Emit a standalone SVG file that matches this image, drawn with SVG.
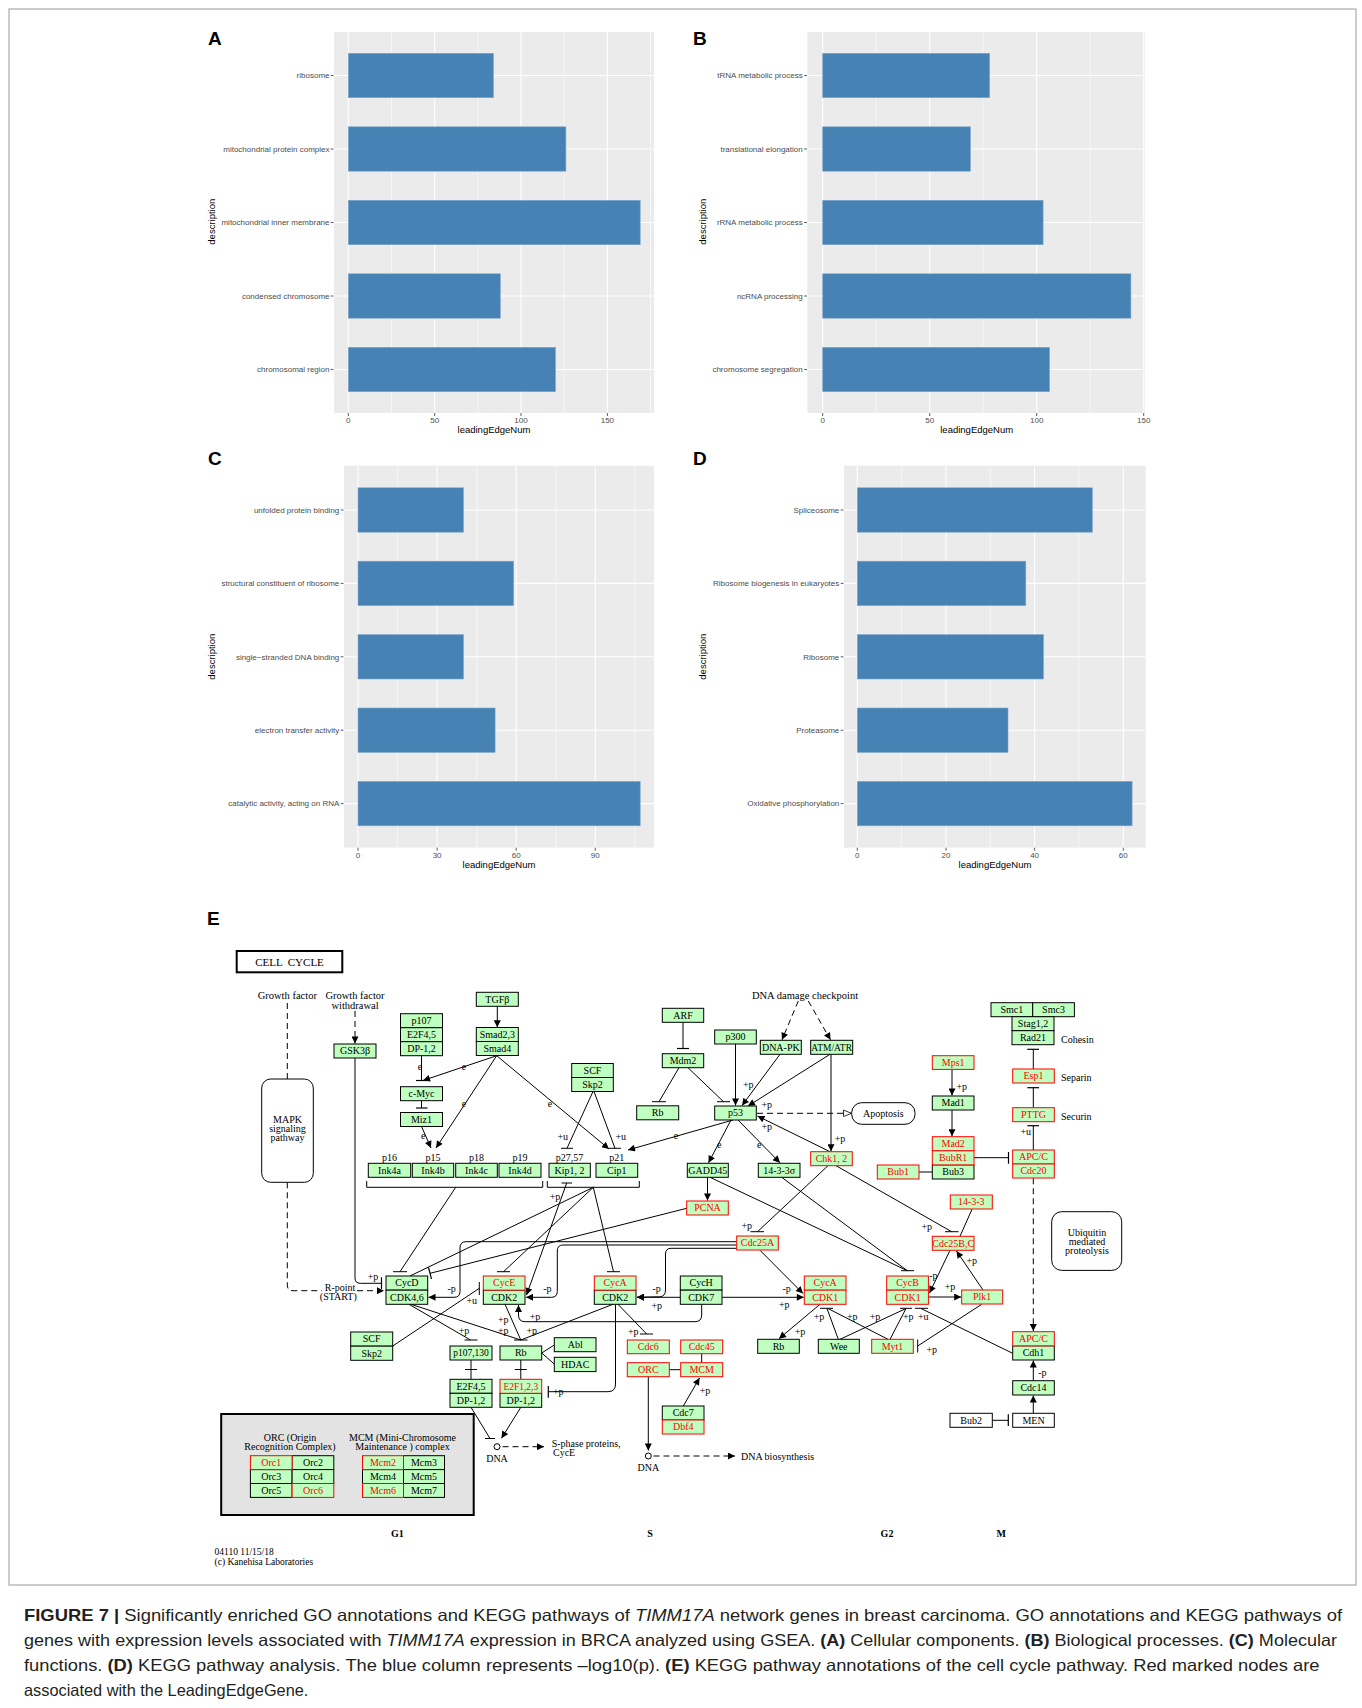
<svg xmlns="http://www.w3.org/2000/svg" width="1362" height="1708" viewBox="0 0 1362 1708">
<style>
.pbg{fill:#EBEBEB}
.gmaj{stroke:#fff;stroke-width:1.1;fill:none}
.gmin{stroke:#fff;stroke-width:0.55;fill:none}
.bar{fill:#4682B4;stroke:#7fa6cc;stroke-width:0.6}
.tk{stroke:#333;stroke-width:0.8;fill:none}
.al{font-family:"Liberation Sans",Arial,sans-serif;font-size:8px;fill:#4D4D4D;text-anchor:end}
.ax{font-family:"Liberation Sans",Arial,sans-serif;font-size:8px;fill:#4D4D4D;text-anchor:middle}
.at{font-family:"Liberation Sans",Arial,sans-serif;font-size:9.5px;fill:#000;text-anchor:middle}
.pl{font-family:"Liberation Sans",Arial,sans-serif;font-size:19px;font-weight:bold;fill:#000}
.g{fill:#BFFFBF;stroke:#000;stroke-width:1}
.r{fill:#BFFFBF;stroke:#F00;stroke-width:1}
.w{fill:#fff;stroke:#000;stroke-width:1}
.k{font-family:"Liberation Serif","Times New Roman",serif;font-size:10px;text-anchor:middle;fill:#000}
.ks{font-family:"Liberation Serif","Times New Roman",serif;font-size:10px;text-anchor:start;fill:#000}
.kr{fill:#F00}
.l{fill:none;stroke:#000;stroke-width:1}
.d{stroke-dasharray:6 4}
.cap{font-family:"Liberation Sans Narrow","Liberation Sans",Arial,sans-serif;font-size:16.5px;fill:#231F20}
</style>
<defs>
<marker id="ar" viewBox="0 0 10 10" refX="10" refY="5" markerWidth="8" markerHeight="7" markerUnits="userSpaceOnUse" orient="auto"><path d="M0,0L10,5L0,10z" fill="#000"/></marker>
<marker id="bar" viewBox="0 0 4 12" refX="2" refY="6" markerWidth="4" markerHeight="12" markerUnits="userSpaceOnUse" orient="auto"><path d="M2,0V12" stroke="#000" stroke-width="1.2"/></marker>
<marker id="oa" viewBox="0 0 12 10" refX="11" refY="5" markerWidth="10" markerHeight="8" markerUnits="userSpaceOnUse" orient="auto"><path d="M1,1L11,5L1,9z" fill="#fff" stroke="#000" stroke-width="1"/></marker>
</defs>
<rect x="0" y="0" width="1362" height="1708" fill="#fff"/>
<rect x="9" y="9" width="1347" height="1576" fill="none" stroke="#999" stroke-width="1"/>

<!-- Panel A -->
<g id="panelA">
<text class="pl" x="208" y="45">A</text>
<rect class="pbg" x="334" y="32" width="320" height="381"/>
<path class="gmin" d="M391.5,32V413M477.8,32V413M564.2,32V413M650.5,32V413"/>
<path class="gmaj" d="M348.3,32V413M434.7,32V413M521,32V413M607.4,32V413M334,75.5H654M334,149H654M334,222.5H654M334,296H654M334,369.5H654"/>
<rect class="bar" x="348.3" y="53.3" width="145.1" height="44.4"/>
<rect class="bar" x="348.3" y="126.8" width="217.6" height="44.4"/>
<rect class="bar" x="348.3" y="200.3" width="291.9" height="44.4"/>
<rect class="bar" x="348.3" y="273.8" width="152" height="44.4"/>
<rect class="bar" x="348.3" y="347.3" width="207.2" height="44.4"/>
<path class="tk" d="M330.7,75.5H333.5M330.7,149H333.5M330.7,222.5H333.5M330.7,296H333.5M330.7,369.5H333.5M348.3,413V416M434.7,413V416M521,413V416M607.4,413V416"/>
<text class="al" x="329.5" y="78.3">ribosome</text>
<text class="al" x="329.5" y="151.8">mitochondrial protein complex</text>
<text class="al" x="329.5" y="225.3">mitochondrial inner membrane</text>
<text class="al" x="329.5" y="298.8">condensed chromosome</text>
<text class="al" x="329.5" y="372.3">chromosomal region</text>
<text class="ax" x="348.3" y="423">0</text><text class="ax" x="434.7" y="423">50</text><text class="ax" x="521" y="423">100</text><text class="ax" x="607.4" y="423">150</text>
<text class="at" x="494" y="433">leadingEdgeNum</text>
<text class="at" transform="translate(215,221.7) rotate(-90)">description</text>
</g>

<!-- Panel B -->
<g id="panelB">
<text class="pl" x="693" y="45">B</text>
<rect class="pbg" x="807.3" y="32" width="337.7" height="381"/>
<path class="gmin" d="M876.2,32V413M983.2,32V413M1090.2,32V413"/>
<path class="gmaj" d="M822.7,32V413M929.7,32V413M1036.7,32V413M1143.7,32V413M807.3,75.5H1145M807.3,149H1145M807.3,222.5H1145M807.3,296H1145M807.3,369.5H1145"/>
<rect class="bar" x="822.7" y="53.3" width="166.9" height="44.4"/>
<rect class="bar" x="822.7" y="126.8" width="147.7" height="44.4"/>
<rect class="bar" x="822.7" y="200.3" width="220.4" height="44.4"/>
<rect class="bar" x="822.7" y="273.8" width="308.2" height="44.4"/>
<rect class="bar" x="822.7" y="347.3" width="226.8" height="44.4"/>
<path class="tk" d="M804.2,75.5H807M804.2,149H807M804.2,222.5H807M804.2,296H807M804.2,369.5H807M822.7,413V416M929.7,413V416M1036.7,413V416M1143.7,413V416"/>
<text class="al" x="802.7" y="78.3">tRNA metabolic process</text>
<text class="al" x="802.7" y="151.8">translational elongation</text>
<text class="al" x="802.7" y="225.3">rRNA metabolic process</text>
<text class="al" x="802.7" y="298.8">ncRNA processing</text>
<text class="al" x="802.7" y="372.3">chromosome segregation</text>
<text class="ax" x="822.7" y="423">0</text><text class="ax" x="929.7" y="423">50</text><text class="ax" x="1036.7" y="423">100</text><text class="ax" x="1143.7" y="423">150</text>
<text class="at" x="976.7" y="433">leadingEdgeNum</text>
<text class="at" transform="translate(705.5,221.7) rotate(-90)">description</text>
</g>

<!-- Panel C -->
<g id="panelC">
<text class="pl" x="208" y="465">C</text>
<rect class="pbg" x="344" y="465.7" width="310" height="382"/>
<path class="gmin" d="M397.6,465.7V847.7M476.7,465.7V847.7M555.8,465.7V847.7M634.9,465.7V847.7"/>
<path class="gmaj" d="M358,465.7V847.7M437.1,465.7V847.7M516.2,465.7V847.7M595.3,465.7V847.7M344,510H654M344,583.4H654M344,656.8H654M344,730.2H654M344,803.6H654"/>
<rect class="bar" x="358" y="487.8" width="105.5" height="44.4"/>
<rect class="bar" x="358" y="561.2" width="155.6" height="44.4"/>
<rect class="bar" x="358" y="634.6" width="105.5" height="44.4"/>
<rect class="bar" x="358" y="708" width="137.1" height="44.4"/>
<rect class="bar" x="358" y="781.4" width="282.2" height="44.4"/>
<path class="tk" d="M340.7,510H343.5M340.7,583.4H343.5M340.7,656.8H343.5M340.7,730.2H343.5M340.7,803.6H343.5M358,847.7V850.7M437.1,847.7V850.7M516.2,847.7V850.7M595.3,847.7V850.7"/>
<text class="al" x="339.3" y="512.8">unfolded protein binding</text>
<text class="al" x="339.3" y="586.2">structural constituent of ribosome</text>
<text class="al" x="339.3" y="659.6">single−stranded DNA binding</text>
<text class="al" x="339.3" y="733">electron transfer activity</text>
<text class="al" x="339.3" y="806.4">catalytic activity, acting on RNA</text>
<text class="ax" x="358" y="857.5">0</text><text class="ax" x="437.1" y="857.5">30</text><text class="ax" x="516.2" y="857.5">60</text><text class="ax" x="595.3" y="857.5">90</text>
<text class="at" x="499" y="867.5">leadingEdgeNum</text>
<text class="at" transform="translate(215,656.7) rotate(-90)">description</text>
</g>

<!-- Panel D -->
<g id="panelD">
<text class="pl" x="693" y="465">D</text>
<rect class="pbg" x="844" y="465.7" width="301.7" height="382"/>
<path class="gmin" d="M901.6,465.7V847.7M990.3,465.7V847.7M1079,465.7V847.7"/>
<path class="gmaj" d="M857.3,465.7V847.7M946,465.7V847.7M1034.6,465.7V847.7M1123.3,465.7V847.7M844,510H1145.7M844,583.4H1145.7M844,656.8H1145.7M844,730.2H1145.7M844,803.6H1145.7"/>
<rect class="bar" x="857.3" y="487.8" width="235" height="44.4"/>
<rect class="bar" x="857.3" y="561.2" width="168.5" height="44.4"/>
<rect class="bar" x="857.3" y="634.6" width="186.2" height="44.4"/>
<rect class="bar" x="857.3" y="708" width="150.7" height="44.4"/>
<rect class="bar" x="857.3" y="781.4" width="274.8" height="44.4"/>
<path class="tk" d="M840.7,510H843.5M840.7,583.4H843.5M840.7,656.8H843.5M840.7,730.2H843.5M840.7,803.6H843.5M857.3,847.7V850.7M946,847.7V850.7M1034.6,847.7V850.7M1123.3,847.7V850.7"/>
<text class="al" x="839.3" y="512.8">Spliceosome</text>
<text class="al" x="839.3" y="586.2">Ribosome biogenesis in eukaryotes</text>
<text class="al" x="839.3" y="659.6">Ribosome</text>
<text class="al" x="839.3" y="733">Proteasome</text>
<text class="al" x="839.3" y="806.4">Oxidative phosphorylation</text>
<text class="ax" x="857.3" y="857.5">0</text><text class="ax" x="946" y="857.5">20</text><text class="ax" x="1034.6" y="857.5">40</text><text class="ax" x="1123.3" y="857.5">60</text>
<text class="at" x="995" y="867.5">leadingEdgeNum</text>
<text class="at" transform="translate(705.5,656.7) rotate(-90)">description</text>
</g>

<!-- Panel E -->
<text class="pl" x="207" y="925">E</text>
<g id="title"><rect x="236.7" y="951" width="105.6" height="21.3" fill="#fff" stroke="#000" stroke-width="2"/><text class="k" x="289.5" y="965.5" style="font-size:11px" xml:space="preserve">CELL  CYCLE</text></g>

<g id="labels">
<text class="k" x="287.3" y="999" style="font-size:10.5px">Growth factor</text>
<text class="k" x="355" y="999" style="font-size:10.5px">Growth factor</text>
<text class="k" x="355" y="1008.5" style="font-size:10.5px">withdrawal</text>
<text class="k" x="805" y="999" style="font-size:10.5px">DNA damage checkpoint</text>
<text class="ks" x="1061" y="1043">Cohesin</text>
<text class="ks" x="1061" y="1081">Separin</text>
<text class="ks" x="1061" y="1119.5">Securin</text>
<text class="k" x="340" y="1290.5">R-point</text>
<text class="k" x="338.3" y="1299.5">(START)</text>
<text class="ks" x="551.7" y="1446.5">S-phase proteins,</text>
<text class="ks" x="553" y="1456">CycE</text>
<text class="k" x="497" y="1461.5">DNA</text>
<text class="k" x="648.3" y="1471">DNA</text>
<text class="ks" x="741" y="1459.5">DNA biosynthesis</text>
<text class="k" x="397.4" y="1536.5" font-weight="bold">G1</text>
<text class="k" x="650" y="1536.5" font-weight="bold">S</text>
<text class="k" x="887" y="1536.5" font-weight="bold">G2</text>
<text class="k" x="1001.3" y="1536.5" font-weight="bold">M</text>
<text class="ks" x="214.5" y="1555" style="font-size:9.5px">04110 11/15/18</text>
<text class="ks" x="214.5" y="1564.5" style="font-size:9.5px">(c) Kanehisa Laboratories</text>
</g>

<g id="connectors">
<g class="l d">
<path d="M287.3,1003V1079"/>
<path d="M287.3,1182.3V1285Q287.3,1290.7 293,1290.7H322"/>
<path d="M357,1290.7H384" marker-end="url(#ar)"/>
<path d="M355,1011V1043.5" marker-end="url(#ar)"/>
<path d="M798.3,1001L782,1039.8" marker-end="url(#ar)"/>
<path d="M808.3,1001L830.5,1039.8" marker-end="url(#ar)"/>
<path d="M757,1113.3H851.5" marker-end="url(#oa)"/>
<path d="M1033.3,1178.3V1331" marker-end="url(#ar)"/>
<path d="M502.5,1446.7H544" marker-end="url(#ar)"/>
<path d="M653.5,1456H735" marker-end="url(#ar)"/>
</g>
<g class="l">
<path d="M355,1057.7V1278Q355,1283.3 360.3,1283.3H381.5" marker-end="url(#bar)"/>
<path d="M497.3,1006.3V1027.3" marker-end="url(#ar)"/>
<path d="M421.5,1055.7V1080.5" marker-end="url(#bar)"/>
<path d="M496.7,1055.7L423,1080.5" marker-end="url(#ar)"/>
<path d="M421.5,1100.7V1108" marker-end="url(#bar)"/>
<path d="M421.5,1126.5L431,1148" marker-end="url(#ar)"/>
<path d="M496.7,1055.7L436,1148" marker-end="url(#ar)"/>
<path d="M496.7,1055.7L609,1149" marker-end="url(#ar)"/>
<path d="M593,1091.5L567,1148.3M561,1148.3H573"/>
<path d="M594,1091.5L615,1148.3M609,1148.3H621"/>
<path d="M683,1022.3V1048.5" marker-end="url(#bar)"/>
<path d="M679,1067.7L659,1101.7M652,1101.7H666"/>
<path d="M688,1067.7L723.5,1101.7M717,1101.7H730"/>
<path d="M735.5,1044V1105.5" marker-end="url(#ar)"/>
<path d="M780,1054.3L742,1105.5" marker-end="url(#ar)"/>
<path d="M830,1054.3L748,1106" marker-end="url(#ar)"/>
<path d="M831,1054.3V1151.2" marker-end="url(#ar)"/>
<path d="M830,1151.7L757.5,1116" marker-end="url(#ar)"/>
<path d="M733,1120L628,1150" marker-end="url(#ar)"/>
<path d="M731,1120L708.5,1162.8" marker-end="url(#ar)"/>
<path d="M738,1120L780,1162.8" marker-end="url(#ar)"/>
<path d="M707.5,1177.3V1200.5" marker-end="url(#ar)"/>
<path d="M710,1177.3L907.3,1270.7M781.7,1177.3L907.3,1270.7M901,1270.7H914"/>
<path d="M828,1165.7L757.5,1231.7M750.5,1231.7H764"/>
<path d="M836,1165.7L951.7,1231.7M945,1231.7H958.5"/>
<path d="M972,1209.3L960,1236.3"/>
<path d="M950,1250.3L929.5,1293" marker-end="url(#ar)"/>
<path d="M928.3,1297H961.2" marker-end="url(#ar)"/>
<path d="M983,1290L956.5,1251" marker-end="url(#ar)"/>
<path d="M952,1069.3V1095.5" marker-end="url(#ar)"/>
<path d="M952,1110V1136.2" marker-end="url(#ar)"/>
<path d="M974,1157.7H1008.5" marker-end="url(#bar)"/>
<path d="M919,1172H932.3"/>
<path d="M1033.3,1069V1049.3" marker-end="url(#bar)"/>
<path d="M1033.3,1107.7V1087.7" marker-end="url(#bar)"/>
<path d="M1033.3,1150V1125.7" marker-end="url(#bar)"/>
<path d="M1033.3,1413.3V1395.5" marker-end="url(#ar)"/>
<path d="M1033.3,1380.7V1360.5" marker-end="url(#ar)"/>
<path d="M992.3,1420.3H1008.3" marker-end="url(#bar)"/>
<path d="M1012.7,1353.3L921,1308.5M915,1308.3H928"/>
<path d="M981.7,1304.3L917.7,1346M917.7,1339.5V1352.5"/>
<path d="M838.3,1339.3L827,1308.5M888,1339.3L828,1308.5M820,1308.3H833"/>
<path d="M840,1339.3L906,1308.5M890,1339.3L906,1308.5M900,1308.3H912"/>
<path d="M820,1304.3L779,1338.7" marker-end="url(#ar)"/>
<path d="M722.3,1297.3H803.8" marker-end="url(#ar)"/>
<path d="M680.3,1297.3H637" marker-end="url(#ar)"/>
<path d="M760,1250.3L803,1293.5" marker-end="url(#ar)"/>
<path d="M736.7,1248.3H671Q665.5,1248.3 665.5,1254V1290Q665.5,1296.5 659.5,1296.8L637,1297.2" marker-end="url(#ar)"/>
<path d="M736.7,1245H563Q557.3,1245 557.3,1251V1291.5Q557.3,1297.3 551.5,1297.3H526" marker-end="url(#ar)"/>
<path d="M736.7,1241.7H466Q460,1241.7 460,1248V1291.5Q460,1297.3 454,1297.3H428.5" marker-end="url(#ar)"/>
<path d="M701.7,1304.3V1315Q701.7,1321.7 695,1321.7H525Q518.5,1321.7 518.5,1315V1305" marker-end="url(#ar)"/>
<path d="M566.7,1183L526.5,1295" marker-end="url(#ar)"/>
<path d="M561.5,1183H572"/>
<path d="M455.7,1187.3L400,1271.7M393,1271.7H407"/>
<path d="M593.3,1187.3L410,1276"/>
<path d="M593.3,1187.3L503.5,1271.7M497,1271.7H510"/>
<path d="M593.3,1187.3L613.5,1271.7M607,1271.7H620"/>
<path d="M686.7,1208.3L430,1273.3" marker-end="url(#bar)"/>
<path d="M392.7,1346L479.3,1288.3M479.3,1282V1295"/>
<path d="M409,1304.3L470.5,1340M464.5,1340H477.5"/>
<path d="M411,1304.3L520.8,1340M505,1304.3L520.8,1340M613,1304.3L520.8,1340M514,1340H527.5"/>
<path d="M615.5,1304.3V1384Q615.5,1391.7 608,1391.7H548.3" marker-end="url(#bar)"/>
<path d="M618,1304.3L646.7,1334M640,1334H653"/>
<path d="M541.7,1353L554.3,1345M541.7,1353L554.3,1364"/>
<path d="M471,1360V1379.3M465,1369.5H477M520.8,1360V1379.3M514.8,1369.5H526.8"/>
<path d="M471,1407.3L490,1438.5M485,1438.5H495"/>
<path d="M520.8,1407.3L501.5,1438.3" marker-end="url(#ar)"/>
<path d="M648.3,1376.7V1450.5" marker-end="url(#ar)"/>
<path d="M669.3,1369.7H680.7M701.7,1353.7V1362.7"/>
<path d="M683.3,1406L699.5,1378" marker-end="url(#ar)"/>
<path d="M366.7,1181V1187.3H542.7V1181M547.3,1181V1187.3H639.3V1181"/>
</g>
<circle cx="497" cy="1446.7" r="3" fill="#fff" stroke="#000"/>
<circle cx="648.3" cy="1456" r="3" fill="#fff" stroke="#000"/>
<g id="edge-labels">
<text class="k" x="373" y="1280">+p</text>
<text class="k" x="471.7" y="1303.5">+u</text>
<text class="k" x="451.7" y="1291.8">-p</text>
<text class="k" x="547.3" y="1291.8">-p</text>
<text class="k" x="656.7" y="1291.8">-p</text>
<text class="k" x="656.7" y="1309.2">+p</text>
<text class="k" x="535" y="1320.2">+p</text>
<text class="k" x="784.3" y="1307.5">+p</text>
<text class="k" x="786.7" y="1291.8">-p</text>
<text class="k" x="464" y="1333.5">+p</text>
<text class="k" x="503.3" y="1322.8">+p</text>
<text class="k" x="503.3" y="1333.5">+p</text>
<text class="k" x="531.7" y="1333.5">+p</text>
<text class="k" x="558.3" y="1395.2">+p</text>
<text class="k" x="633.3" y="1335.2">+p</text>
<text class="k" x="555" y="1199.5">+p</text>
<text class="k" x="562.7" y="1139.5">+u</text>
<text class="k" x="620.7" y="1139.5">+u</text>
<text class="k" x="748.3" y="1087.8">+p</text>
<text class="k" x="766.7" y="1107.5">+p</text>
<text class="k" x="840" y="1141.8">+p</text>
<text class="k" x="766.7" y="1130.2">+p</text>
<text class="k" x="420" y="1070">e</text>
<text class="k" x="464" y="1069.5">e</text>
<text class="k" x="423.3" y="1138.5">e</text>
<text class="k" x="464" y="1106.8">e</text>
<text class="k" x="550" y="1106.8">e</text>
<text class="k" x="676" y="1139">e</text>
<text class="k" x="719.3" y="1148">e</text>
<text class="k" x="759.3" y="1148">e</text>
<text class="k" x="746.7" y="1229.2">+p</text>
<text class="k" x="926.7" y="1229.5">+p</text>
<text class="k" x="933.3" y="1278.5">-p</text>
<text class="k" x="950" y="1290.2">+p</text>
<text class="k" x="971.7" y="1264.2">+p</text>
<text class="k" x="961.7" y="1089.5">+p</text>
<text class="k" x="1025.7" y="1135.2">+u</text>
<text class="k" x="1042.3" y="1376.2">-p</text>
<text class="k" x="819" y="1319.5">+p</text>
<text class="k" x="800" y="1335.2">+p</text>
<text class="k" x="852.3" y="1319.5">+p</text>
<text class="k" x="875" y="1319.5">+p</text>
<text class="k" x="908.3" y="1319.5">+p</text>
<text class="k" x="923.3" y="1319.5">+u</text>
<text class="k" x="931.7" y="1352.8">+p</text>
<text class="k" x="705" y="1393.5">+p</text>
</g>
</g>

<!-- Nodes -->
<g id="n-MAPK"><rect x="261.7" y="1079" width="51.6" height="103.3" rx="9" fill="#fff" stroke="#000"/><text class="k" x="287.5" y="1123">MAPK</text><text class="k" x="287.5" y="1132">signaling</text><text class="k" x="287.5" y="1141">pathway</text></g>
<g id="n-GSK3b"><rect class="g" x="334" y="1044" width="42" height="14"/><text class="k" x="355" y="1054.4">GSK3β</text></g>
<g id="n-p107"><rect class="g" x="400.5" y="1013.7" width="42" height="14"/><rect class="g" x="400.5" y="1027.7" width="42" height="14"/><rect class="g" x="400.5" y="1041.7" width="42" height="14"/><text class="k" x="421.5" y="1024.1">p107</text><text class="k" x="421.5" y="1038.1">E2F4,5</text><text class="k" x="421.5" y="1052.1">DP-1,2</text></g>
<g id="n-TGFb"><rect class="g" x="476.3" y="992.3" width="42" height="14"/><text class="k" x="497.3" y="1002.7">TGFβ</text></g>
<g id="n-Smad"><rect class="g" x="476.3" y="1027.5" width="42" height="14"/><rect class="g" x="476.3" y="1041.5" width="42" height="14"/><text class="k" x="497.3" y="1037.9">Smad2,3</text><text class="k" x="497.3" y="1051.9">Smad4</text></g>
<g id="n-cMyc"><rect class="g" x="400.5" y="1086.7" width="42" height="14"/><text class="k" x="421.5" y="1097.1">c-Myc</text></g>
<g id="n-Miz1"><rect class="g" x="400.5" y="1112.5" width="42" height="14"/><text class="k" x="421.5" y="1122.9">Miz1</text></g>
<g id="n-SCF1"><rect class="g" x="571.7" y="1063.5" width="41.6" height="14"/><rect class="g" x="571.7" y="1077.5" width="41.6" height="14"/><text class="k" x="592.5" y="1073.9">SCF</text><text class="k" x="592.5" y="1087.9">Skp2</text></g>
<g id="n-Ink4a"><text class="k" x="389.5" y="1161">p16</text><rect class="g" x="368.3" y="1163.3" width="42.4" height="14"/><text class="k" x="389.5" y="1173.7">Ink4a</text></g>
<g id="n-Ink4b"><text class="k" x="433" y="1161">p15</text><rect class="g" x="412.3" y="1163.3" width="41.4" height="14"/><text class="k" x="433" y="1173.7">Ink4b</text></g>
<g id="n-Ink4c"><text class="k" x="476.5" y="1161">p18</text><rect class="g" x="455.7" y="1163.3" width="41.6" height="14"/><text class="k" x="476.5" y="1173.7">Ink4c</text></g>
<g id="n-Ink4d"><text class="k" x="520" y="1161">p19</text><rect class="g" x="499" y="1163.3" width="42" height="14"/><text class="k" x="520" y="1173.7">Ink4d</text></g>
<g id="n-Kip"><text class="k" x="569.6" y="1161">p27,57</text><rect class="g" x="549" y="1163.3" width="41.3" height="14"/><text class="k" x="569.6" y="1173.7">Kip1, 2</text></g>
<g id="n-Cip1"><text class="k" x="616.8" y="1161">p21</text><rect class="g" x="596" y="1163.3" width="41.7" height="14"/><text class="k" x="616.8" y="1173.7">Cip1</text></g>
<g id="n-ARF"><rect class="g" x="662.3" y="1008.3" width="41.4" height="14"/><text class="k" x="683" y="1018.7">ARF</text></g>
<g id="n-Mdm2"><rect class="g" x="662.3" y="1053.7" width="41.4" height="14"/><text class="k" x="683" y="1064.1">Mdm2</text></g>
<g id="n-Rb1"><rect class="g" x="636.7" y="1105.8" width="42" height="14"/><text class="k" x="657.7" y="1116.2">Rb</text></g>
<g id="n-p300"><rect class="g" x="714.7" y="1030" width="41.6" height="14"/><text class="k" x="735.5" y="1040.4">p300</text></g>
<g id="n-DNAPK"><rect class="g" x="760.3" y="1040.3" width="41" height="14"/><text class="k" x="780.8" y="1050.7">DNA-PK</text></g>
<g id="n-ATM"><rect class="g" x="810.7" y="1040.3" width="42" height="14"/><text class="k" x="831.7" y="1050.7" style="font-size:9.5px">ATM/ATR</text></g>
<g id="n-p53"><rect class="g" x="714.7" y="1106" width="41.6" height="14"/><text class="k" x="735.5" y="1116.4">p53</text></g>
<g id="n-Chk"><rect class="r" x="810.7" y="1151.7" width="41.6" height="14"/><text class="k kr" x="831.5" y="1162.1">Chk1, 2</text></g>
<g id="n-GADD45"><rect class="g" x="687.3" y="1163.3" width="41" height="14"/><text class="k" x="707.8" y="1173.7">GADD45</text></g>
<g id="n-1433s"><rect class="g" x="758.3" y="1163.3" width="41.7" height="14"/><text class="k" x="779.2" y="1173.7">14-3-3σ</text></g>
<g id="n-PCNA"><rect class="r" x="686.7" y="1201" width="41.6" height="14"/><text class="k kr" x="707.5" y="1211.4">PCNA</text></g>
<g id="n-Apoptosis"><rect x="851.7" y="1102.7" width="63.3" height="21.6" rx="10" fill="#fff" stroke="#000"/><text class="k" x="883.3" y="1117">Apoptosis</text></g>
<g id="n-Smc"><rect class="g" x="991" y="1002.7" width="41.7" height="14"/><rect class="g" x="1032.7" y="1002.7" width="41.7" height="14"/><text class="k" x="1011.8" y="1013.1">Smc1</text><text class="k" x="1053.5" y="1013.1">Smc3</text></g>
<g id="n-Stag"><rect class="g" x="1012" y="1016.7" width="42" height="14"/><rect class="g" x="1012" y="1030.7" width="42" height="14"/><text class="k" x="1033" y="1027.1">Stag1,2</text><text class="k" x="1033" y="1041.1">Rad21</text></g>
<g id="n-Esp1"><rect class="r" x="1012.7" y="1069" width="41.6" height="14"/><text class="k kr" x="1033.5" y="1079.4">Esp1</text></g>
<g id="n-PTTG"><rect class="r" x="1012.7" y="1107.7" width="41.6" height="14"/><text class="k kr" x="1033.5" y="1118.1">PTTG</text></g>
<g id="n-APC1"><rect class="r" x="1012.7" y="1150" width="41.6" height="14"/><rect class="r" x="1012.7" y="1164" width="41.6" height="14"/><text class="k kr" x="1033.5" y="1160.4">APC/C</text><text class="k kr" x="1033.5" y="1174.4">Cdc20</text></g>
<g id="n-Mps1"><rect class="r" x="932.3" y="1055.7" width="41.7" height="13.7"/><text class="k kr" x="953.2" y="1066.1">Mps1</text></g>
<g id="n-Mad1"><rect class="g" x="932.3" y="1096" width="41.7" height="14"/><text class="k" x="953.2" y="1106.4">Mad1</text></g>
<g id="n-Mad2"><rect class="g" x="932.3" y="1164.9" width="41.7" height="14.1"/><rect class="r" x="932.3" y="1136.7" width="41.7" height="14.1"/><rect class="r" x="932.3" y="1150.8" width="41.7" height="14.1"/><text class="k kr" x="953.2" y="1147.1">Mad2</text><text class="k kr" x="953.2" y="1161.2">BubR1</text><text class="k" x="953.2" y="1175.3">Bub3</text></g>
<g id="n-Bub1"><rect class="r" x="877.3" y="1165" width="41.7" height="14"/><text class="k kr" x="898.2" y="1175.4">Bub1</text></g>
<g id="n-1433"><rect class="r" x="950.3" y="1195" width="42" height="14"/><text class="k kr" x="971.3" y="1205.4">14-3-3</text></g>
<g id="n-Ubiq"><rect x="1051.7" y="1211.7" width="70" height="58.7" rx="10" fill="#fff" stroke="#000"/><text class="k" x="1087" y="1236">Ubiquitin</text><text class="k" x="1087" y="1244.5">mediated</text><text class="k" x="1087" y="1253.5">proteolysis</text></g>
<g id="n-Cdc25BC"><rect class="r" x="932.3" y="1236.3" width="41.7" height="14"/><text class="k kr" x="953.2" y="1246.7">Cdc25B,C</text></g>
<g id="n-CycD"><rect class="g" x="386" y="1276" width="41.7" height="14.15"/><rect class="g" x="386" y="1290.15" width="41.7" height="14.15"/><text class="k" x="406.9" y="1286.4">CycD</text><text class="k" x="406.9" y="1300.6">CDK4,6</text></g>
<g id="n-CycE"><rect class="g" x="483.3" y="1290.15" width="41.7" height="14.15"/><rect class="r" x="483.3" y="1276" width="41.7" height="14.15"/><text class="k kr" x="504.2" y="1286.4">CycE</text><text class="k" x="504.2" y="1300.6">CDK2</text></g>
<g id="n-CycA2"><rect class="g" x="594.3" y="1290.15" width="41.7" height="14.15"/><rect class="r" x="594.3" y="1276" width="41.7" height="14.15"/><text class="k kr" x="615.2" y="1286.4">CycA</text><text class="k" x="615.2" y="1300.6">CDK2</text></g>
<g id="n-CycH"><rect class="g" x="680.3" y="1276" width="41.7" height="14.15"/><rect class="g" x="680.3" y="1290.15" width="41.7" height="14.15"/><text class="k" x="701.2" y="1286.4">CycH</text><text class="k" x="701.2" y="1300.6">CDK7</text></g>
<g id="n-CycA1"><rect class="r" x="804.3" y="1276" width="41.7" height="14.15"/><rect class="r" x="804.3" y="1290.15" width="41.7" height="14.15"/><text class="k kr" x="825.2" y="1286.4">CycA</text><text class="k kr" x="825.2" y="1300.6">CDK1</text></g>
<g id="n-CycB"><rect class="r" x="886.7" y="1276" width="41.7" height="14.15"/><rect class="r" x="886.7" y="1290.15" width="41.7" height="14.15"/><text class="k kr" x="907.6" y="1286.4">CycB</text><text class="k kr" x="907.6" y="1300.6">CDK1</text></g>
<g id="n-Plk1"><rect class="r" x="961.7" y="1290" width="41" height="14"/><text class="k kr" x="982.2" y="1300.4">Plk1</text></g>
<g id="n-Cdc25A"><rect class="r" x="736.7" y="1236" width="41.6" height="14"/><text class="k kr" x="757.5" y="1246.4">Cdc25A</text></g>
<g id="n-SCF2"><rect class="g" x="350.7" y="1332" width="42" height="14.15"/><rect class="g" x="350.7" y="1346.15" width="42" height="14.15"/><text class="k" x="371.7" y="1342.4">SCF</text><text class="k" x="371.7" y="1356.6">Skp2</text></g>
<g id="n-p107130"><rect class="g" x="450" y="1346" width="42" height="14"/><text class="k" x="471" y="1356.4" style="font-size:9.5px">p107,130</text></g>
<g id="n-Rb2"><rect class="g" x="500" y="1346" width="41.7" height="14"/><text class="k" x="520.8" y="1356.4">Rb</text></g>
<g id="n-Abl"><rect class="g" x="554.3" y="1337.7" width="41.7" height="14"/><text class="k" x="575.2" y="1348.1">Abl</text></g>
<g id="n-HDAC"><rect class="g" x="554.3" y="1357.3" width="41.7" height="14.3"/><text class="k" x="575.2" y="1367.8">HDAC</text></g>
<g id="n-E2F45"><rect class="g" x="450" y="1379.3" width="42" height="14"/><rect class="g" x="450" y="1393.3" width="42" height="14"/><text class="k" x="471" y="1389.7">E2F4,5</text><text class="k" x="471" y="1403.7">DP-1,2</text></g>
<g id="n-E2F123"><rect class="g" x="500" y="1393.3" width="41.7" height="14"/><rect class="r" x="500" y="1379.3" width="41.7" height="14"/><text class="k kr" x="520.8" y="1389.7" style="font-size:9.5px">E2F1,2,3</text><text class="k" x="520.8" y="1403.7">DP-1,2</text></g>
<g id="n-Cdc6"><rect class="r" x="627.3" y="1340" width="42" height="13.7"/><text class="k kr" x="648.3" y="1350.3">Cdc6</text></g>
<g id="n-Cdc45"><rect class="r" x="680.7" y="1340" width="42" height="13.7"/><text class="k kr" x="701.7" y="1350.3">Cdc45</text></g>
<g id="n-ORC"><rect class="r" x="627.3" y="1362.7" width="42" height="14"/><text class="k kr" x="648.3" y="1373.1">ORC</text></g>
<g id="n-MCM"><rect class="r" x="680.7" y="1362.7" width="42" height="14"/><text class="k kr" x="701.7" y="1373.1">MCM</text></g>
<g id="n-Cdc7"><rect class="g" x="662.3" y="1406" width="41.7" height="14"/><rect class="r" x="662.3" y="1420" width="41.7" height="14"/><text class="k" x="683.2" y="1416.4">Cdc7</text><text class="k kr" x="683.2" y="1430.4">Dbf4</text></g>
<g id="n-Rb3"><rect class="g" x="757.7" y="1339.3" width="41.6" height="14"/><text class="k" x="778.5" y="1349.7">Rb</text></g>
<g id="n-Wee"><rect class="g" x="818.3" y="1339.3" width="41" height="14"/><text class="k" x="838.8" y="1349.7">Wee</text></g>
<g id="n-Myt1"><rect class="r" x="871.7" y="1339.3" width="41.6" height="14"/><text class="k kr" x="892.5" y="1349.7">Myt1</text></g>
<g id="n-APC2"><rect class="g" x="1012.7" y="1345.85" width="41.6" height="14.15"/><rect class="r" x="1012.7" y="1331.7" width="41.6" height="14.15"/><text class="k kr" x="1033.5" y="1342.1">APC/C</text><text class="k" x="1033.5" y="1356.3">Cdh1</text></g>
<g id="n-Cdc14"><rect class="g" x="1012.7" y="1380.7" width="41.6" height="14.3"/><text class="k" x="1033.5" y="1391.2">Cdc14</text></g>
<g id="n-MEN"><rect class="w" x="1012.7" y="1413.3" width="41.6" height="14"/><text class="k" x="1033.5" y="1423.7">MEN</text></g>
<g id="n-Bub2"><rect class="w" x="950" y="1413.3" width="42.3" height="14"/><text class="k" x="971.2" y="1423.7">Bub2</text></g>

<g id="legend">
<rect x="221.2" y="1414" width="252.5" height="101" fill="#E3E3E3" stroke="#000" stroke-width="2"/>
<text class="k" x="290" y="1440.5">ORC (Origin</text>
<text class="k" x="290" y="1450">Recognition Complex)</text>
<text class="k" x="402.5" y="1440.5">MCM (Mini-Chromosome</text>
<text class="k" x="402.5" y="1450">Maintenance ) complex</text>
<rect class="g" x="292.1" y="1455.7" width="41.7" height="13.9"/>
<rect class="g" x="250.4" y="1469.6" width="41.7" height="13.9"/>
<rect class="g" x="292.1" y="1469.6" width="41.7" height="13.9"/>
<rect class="g" x="250.4" y="1483.5" width="41.7" height="13.9"/>
<rect class="r" x="250.4" y="1455.7" width="41.7" height="13.9"/>
<rect class="r" x="292.1" y="1483.5" width="41.7" height="13.9"/>
<text class="k kr" x="271.2" y="1466">Orc1</text><text class="k" x="313" y="1466">Orc2</text>
<text class="k" x="271.2" y="1479.9">Orc3</text><text class="k" x="313" y="1479.9">Orc4</text>
<text class="k" x="271.2" y="1493.8">Orc5</text><text class="k kr" x="313" y="1493.8">Orc6</text>
<rect class="g" x="403.5" y="1455.7" width="41" height="13.9"/>
<rect class="g" x="362.5" y="1469.6" width="41" height="13.9"/>
<rect class="g" x="403.5" y="1469.6" width="41" height="13.9"/>
<rect class="g" x="403.5" y="1483.5" width="41" height="13.9"/>
<rect class="r" x="362.5" y="1455.7" width="41" height="13.9"/>
<rect class="r" x="362.5" y="1483.5" width="41" height="13.9"/>
<text class="k kr" x="383" y="1466">Mcm2</text><text class="k" x="424" y="1466">Mcm3</text>
<text class="k" x="383" y="1479.9">Mcm4</text><text class="k" x="424" y="1479.9">Mcm5</text>
<text class="k kr" x="383" y="1493.8">Mcm6</text><text class="k" x="424" y="1493.8">Mcm7</text>
</g>

<g id="caption">
<text class="cap" x="24" y="1621" textLength="1318" lengthAdjust="spacingAndGlyphs"><tspan font-weight="bold">FIGURE 7 |</tspan> Significantly enriched GO annotations and KEGG pathways of <tspan font-style="italic">TIMM17A</tspan> network genes in breast carcinoma. GO annotations and KEGG pathways of</text>
<text class="cap" x="24" y="1646" textLength="1313" lengthAdjust="spacingAndGlyphs">genes with expression levels associated with <tspan font-style="italic">TIMM17A</tspan> expression in BRCA analyzed using GSEA. <tspan font-weight="bold">(A)</tspan> Cellular components. <tspan font-weight="bold">(B)</tspan> Biological processes. <tspan font-weight="bold">(C)</tspan> Molecular</text>
<text class="cap" x="24" y="1671" textLength="1295.5" lengthAdjust="spacingAndGlyphs">functions. <tspan font-weight="bold">(D)</tspan> KEGG pathway analysis. The blue column represents –log10(p). <tspan font-weight="bold">(E)</tspan> KEGG pathway annotations of the cell cycle pathway. Red marked nodes are</text>
<text class="cap" x="24" y="1696" textLength="284.4" lengthAdjust="spacingAndGlyphs">associated with the LeadingEdgeGene.</text>
</g>
</svg>
